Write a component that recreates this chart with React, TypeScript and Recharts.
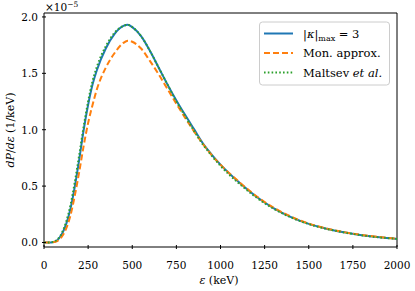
import React from "react";
import { LineChart, Line, XAxis, YAxis, ReferenceArea } from "recharts";

// photon energy grid (keV)
const eps = [0, 25, 50, 75, 100, 125, 150, 175, 200, 225, 250, 275, 300, 350, 400, 450, 475, 500, 550, 600, 650, 700, 750, 800, 850, 900, 950, 1000, 1100, 1200, 1300, 1400, 1500, 1600, 1700, 1800, 1900, 2000];

// dP/de in units of 1e-5 / keV
const kappaMax3 = [0, 0, 0.003, 0.02, 0.07, 0.16, 0.3, 0.5, 0.74, 1.0, 1.22, 1.4, 1.53, 1.72, 1.85, 1.92, 1.93, 1.91, 1.83, 1.7, 1.55, 1.4, 1.26, 1.13, 1.005, 0.88, 0.78, 0.69, 0.54, 0.41, 0.305, 0.225, 0.165, 0.122, 0.09, 0.065, 0.046, 0.032];
const monApprox = [0, 0, 0.002, 0.012, 0.05, 0.12, 0.24, 0.42, 0.63, 0.86, 1.06, 1.22, 1.36, 1.55, 1.68, 1.77, 1.79, 1.78, 1.72, 1.61, 1.49, 1.36, 1.23, 1.105, 0.985, 0.875, 0.775, 0.69, 0.545, 0.415, 0.31, 0.229, 0.168, 0.124, 0.092, 0.067, 0.048, 0.034];
const maltsev = [0, 0, 0.004, 0.025, 0.08, 0.18, 0.33, 0.54, 0.78, 1.03, 1.25, 1.43, 1.56, 1.74, 1.86, 1.92, 1.93, 1.91, 1.83, 1.7, 1.55, 1.4, 1.25, 1.12, 0.99, 0.87, 0.77, 0.68, 0.53, 0.403, 0.3, 0.222, 0.163, 0.121, 0.089, 0.064, 0.045, 0.032];

const xTicks = [0, 250, 500, 750, 1000, 1250, 1500, 1750, 2000];
const yTicks = [0, 0.5, 1.0, 1.5, 2.0];

const data = eps.map((e, i) => ({ e, a: kappaMax3[i], b: monApprox[i], c: maltsev[i] }));

const txt = { fontFamily: "DejaVu Serif", fontSize: 10.5, fill: "#000" };
const legTxt = { ...txt, fontSize: 11.5 };
const labTxt = { ...txt, fontSize: 11 };

const XTick = ({ x, y, payload }: any) => (
  <g>
    <line x1={x} y1={y} x2={x} y2={y - 4} stroke="#000" strokeWidth={1} />
    <text x={x} y={y + 20} textAnchor="middle" style={txt}>
      {payload.value}
    </text>
  </g>
);

const YTick = ({ x, y, payload }: any) => (
  <g>
    <line x1={x} y1={y} x2={x + 4} y2={y} stroke="#000" strokeWidth={1} />
    <text x={x - 4} y={y + 4} textAnchor="end" style={txt}>
      {payload.value.toFixed(1)}
    </text>
  </g>
);

const LegendBox = () => (
  <svg width={415} height={291} style={{ position: "absolute", left: 0, top: 0, pointerEvents: "none" }}>
    <rect x={259.5} y={22} width={130} height={63} rx={3} fill="#fff" fillOpacity={0.8} stroke="#ccc" />
    <line x1={264} x2={293} y1={33.5} y2={33.5} stroke="#1f77b4" strokeWidth={2} />
    <line x1={264} x2={293} y1={53} y2={53} stroke="#ff7f0e" strokeWidth={2} strokeDasharray="6 3" />
    <line x1={264} x2={293} y1={72.5} y2={72.5} stroke="#2ca02c" strokeWidth={2} strokeDasharray="1.6 2.2" />
    <text x={303} y={37.5} style={legTxt}>
      |<tspan fontStyle="italic">κ</tspan>|<tspan fontSize={8} dy={3}>max</tspan>
      <tspan dy={-3}> = 3</tspan>
    </text>
    <text x={303} y={57} style={legTxt}>Mon. approx.</text>
    <text x={303} y={76.5} style={legTxt}>
      Maltsev <tspan fontStyle="italic">et al.</tspan>
    </text>
  </svg>
);

export default function App() {
  return (
    <div style={{ position: "absolute", left: 0, top: 0, width: 415, height: 291, background: "#fff" }}>
      <LineChart width={415} height={291} data={data} margin={{ top: 13, right: 18, left: 0, bottom: 0 }}>
        <XAxis
          dataKey="e"
          type="number"
          domain={[0, 2000]}
          ticks={xTicks}
          tickSize={0}
          tickLine={false}
          tick={<XTick />}
          height={44}
          axisLine={false}
          allowDataOverflow
        />
        <YAxis
          type="number"
          domain={[-0.04, 2.035]}
          ticks={yTicks}
          tickSize={0}
          tickLine={false}
          tick={<YTick />}
          width={44}
          axisLine={false}
          allowDataOverflow
        />
        <Line type="monotone" dataKey="a" stroke="#1f77b4" strokeWidth={2} dot={false} isAnimationActive={false} />
        <Line type="monotone" dataKey="b" stroke="#ff7f0e" strokeWidth={2} strokeDasharray="6 3" dot={false} isAnimationActive={false} />
        <Line type="monotone" dataKey="c" stroke="#2ca02c" strokeWidth={2} strokeDasharray="1.6 2.2" dot={false} isAnimationActive={false} />
        <ReferenceArea x1={0} x2={2000} y1={-0.04} y2={2.035} fill="none" stroke="#000" strokeWidth={1} ifOverflow="visible" />
      </LineChart>
      <svg width={415} height={291} style={{ position: "absolute", left: 0, top: 0, pointerEvents: "none" }}>
        <text x={45} y={11} style={txt}>
          ×10<tspan fontSize={7.5} dy={-4}>−5</tspan>
        </text>
        <text x={219} y={284} textAnchor="middle" style={labTxt}>
          <tspan fontStyle="italic">ε</tspan> (keV)
        </text>
        <text transform="translate(14,130) rotate(-90)" textAnchor="middle" style={labTxt}>
          <tspan fontStyle="italic">dP</tspan>/<tspan fontStyle="italic">dε</tspan> (1/keV)
        </text>
      </svg>
      <LegendBox />
    </div>
  );
}
